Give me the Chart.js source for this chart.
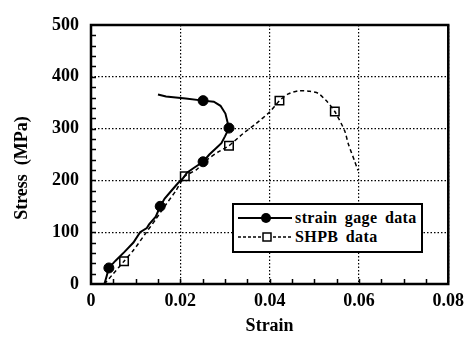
<!DOCTYPE html>
<html lang="en">
<head>
    <style>
        body {
            margin: 0;
            background-color: #fff;
        }

        #wrap {
            position: relative;
            width: 471px;
            height: 339px;
        }

        #legend {
            position: absolute;
            left: 232px;
            top: 203px;
            width: 187px;
            height: 46px;
            border: 2px solid #000;
            background-color: #fff;
            font-family: 'Liberation Serif', serif;
            font-weight: bold;
            font-size: 16px;
            letter-spacing: 0.4px;
            word-spacing: 3px;
            color: #000;
        }

        #legend .row {
            position: absolute;
            left: 4px;
            height: 18px;
            display: flex;
            align-items: center;
            white-space: nowrap;
        }

        #legend svg {
            margin-right: 3px;
        }
    </style>
</head>
<body>

<div id="wrap">
    <canvas id="stressChart" width="471" height="339"></canvas>
    <!-- legend drawn as html so the text stays text -->
    <div id="legend">
        <div class="row" style="top: 4px;">
            <svg width="54" height="18">
                <line x1="0" y1="9" x2="54" y2="9" stroke="#000" stroke-width="2"/>
                <circle cx="28" cy="9" r="5" fill="#000"/>
            </svg>
            <span>strain gage data</span>
        </div>
        <div class="row" style="top: 23px;">
            <svg width="54" height="18">
                <line x1="0" y1="9" x2="54" y2="9" stroke="#000" stroke-width="1.5" stroke-dasharray="3,2"/>
                <rect x="25" y="5" width="8" height="8" fill="#fff" stroke="#000" stroke-width="1.5"/>
            </svg>
            <span>SHPB data</span>
        </div>
    </div>
</div>

<script src="https://cdn.jsdelivr.net/npm/chart.js"></script>
<script>
    // strain gage curve (solid line)
    const gageStrain = [0.0030, 0.0035, 0.0040, 0.0055, 0.0075, 0.0095, 0.0110, 0.0125, 0.0130, 0.0145,
        0.0155, 0.0165, 0.0180, 0.0195, 0.0205, 0.0215, 0.0230, 0.0251, 0.0265, 0.0280,
        0.0292, 0.0300, 0.0309, 0.0301, 0.0290, 0.0275, 0.0251, 0.0212, 0.0190, 0.0168, 0.0150];
    const gageStress = [0, 15, 31, 45, 62, 80, 100, 108, 115, 130,
        150, 165, 180, 195, 203, 215, 224, 236, 250, 262,
        272, 285, 301, 329, 344, 352, 354, 358, 360, 362, 366];
    // filled circle markers
    const gageMarkStrain = [0.0040, 0.0155, 0.0251, 0.0309, 0.0251];
    const gageMarkStress = [31, 150, 236, 301, 354];

    // SHPB curve (dashed line)
    const shpbStrain = [0.0030, 0.0050, 0.0074, 0.0095, 0.0120, 0.0145, 0.0165, 0.0190, 0.0210, 0.0235,
        0.0260, 0.0285, 0.0309, 0.0340, 0.0370, 0.0400, 0.0422, 0.0442, 0.0464, 0.0490,
        0.0509, 0.0530, 0.0546, 0.0568, 0.0576, 0.0590, 0.0598];
    const shpbStress = [0, 20, 44, 65, 95, 125, 150, 180, 208, 220,
        240, 255, 267, 290, 310, 332, 354, 367, 373, 372,
        368, 351, 333, 296, 271, 238, 219];
    // open square markers
    const shpbMarkStrain = [0.0074, 0.0210, 0.0309, 0.0422, 0.0546];
    const shpbMarkStress = [44, 208, 267, 354, 333];

    const xTicks = [0, 0.02, 0.04, 0.06, 0.08];
    const yTicks = [0, 100, 200, 300, 400, 500];

    function toPoints(xs, ys) {
        return xs.map((x, i) => ({ x: x, y: ys[i] }));
    }

    const tickFont = { family: 'Liberation Serif', size: 18, weight: 'bold' };
    const titleFont = { family: 'Liberation Serif', size: 18, weight: 'bold' };

    // frame and inward minor ticks
    const framePlugin = {
        id: 'frame',
        afterDraw(chart) {
            const ctx = chart.ctx;
            const a = chart.chartArea;
            const xs = chart.scales.x;
            const ys = chart.scales.y;
            ctx.save();
            ctx.strokeStyle = '#000';
            ctx.lineWidth = 1.5;
            ctx.beginPath();
            for (let v = 0.005; v < 0.08; v += 0.005) {
                const px = Math.round(xs.getPixelForValue(v)) + 0.5;
                ctx.moveTo(px, a.bottom);
                ctx.lineTo(px, a.bottom - 5);
            }
            for (let v = 20; v < 500; v += 20) {
                const py = Math.round(ys.getPixelForValue(v)) + 0.5;
                ctx.moveTo(a.left, py);
                ctx.lineTo(a.left + 5, py);
            }
            ctx.stroke();
            ctx.lineWidth = 2.5;
            ctx.strokeRect(a.left, a.top, a.right - a.left, a.bottom - a.top);
            ctx.restore();
        }
    };

    new Chart(document.getElementById('stressChart'), {
        type: 'scatter',
        data: {
            datasets: [
                {
                    label: 'strain gage data',
                    data: toPoints(gageStrain, gageStress),
                    showLine: true,
                    borderColor: '#000',
                    borderWidth: 2,
                    pointRadius: 0,
                    tension: 0
                },
                {
                    label: 'gage markers',
                    data: toPoints(gageMarkStrain, gageMarkStress),
                    showLine: false,
                    pointStyle: 'circle',
                    pointRadius: 5,
                    backgroundColor: '#000',
                    borderColor: '#000'
                },
                {
                    label: 'SHPB data',
                    data: toPoints(shpbStrain, shpbStress),
                    showLine: true,
                    borderColor: '#000',
                    borderWidth: 1.5,
                    borderDash: [4, 3],
                    pointRadius: 0,
                    tension: 0.2
                },
                {
                    label: 'SHPB markers',
                    data: toPoints(shpbMarkStrain, shpbMarkStress),
                    showLine: false,
                    pointStyle: 'rect',
                    pointRadius: 6,
                    borderWidth: 1.5,
                    backgroundColor: '#fff',
                    borderColor: '#000'
                }
            ]
        },
        options: {
            responsive: false,
            animation: false,
            devicePixelRatio: 1,
            layout: { padding: { left: 0, right: 20, top: 25, bottom: 0 } },
            plugins: {
                legend: { display: false },
                tooltip: { enabled: false }
            },
            scales: {
                x: {
                    type: 'linear',
                    min: 0,
                    max: 0.08,
                    afterBuildTicks: scale => { scale.ticks = xTicks.map(v => ({ value: v })); },
                    afterFit: scale => { scale.height = 55; },
                    ticks: {
                        color: '#000',
                        font: tickFont,
                        padding: 7,
                        callback: v => (v === 0 ? '0' : v.toFixed(2))
                    },
                    grid: { color: '#000', lineWidth: 1.2, drawTicks: false },
                    border: { display: false, dash: [1.5, 2] },
                    title: {
                        display: true,
                        text: 'Strain',
                        color: '#000',
                        font: titleFont,
                        padding: { top: 2, bottom: 2 }
                    }
                },
                y: {
                    min: 0,
                    max: 500,
                    afterBuildTicks: scale => { scale.ticks = yTicks.map(v => ({ value: v })); },
                    afterFit: scale => { scale.width = 91; },
                    ticks: {
                        color: '#000',
                        font: tickFont,
                        padding: 12
                    },
                    grid: { color: '#000', lineWidth: 1.2, drawTicks: false },
                    border: { display: false, dash: [1.5, 2] },
                    title: {
                        display: true,
                        // trailing spaces nudge the centred title down a little
                        text: 'Stress  (MPa)\u00a0\u00a0\u00a0\u00a0\u00a0\u00a0',
                        color: '#000',
                        font: titleFont,
                        padding: { top: 12, bottom: 0 }
                    }
                }
            }
        },
        plugins: [framePlugin]
    });
</script>

</body>
</html>
